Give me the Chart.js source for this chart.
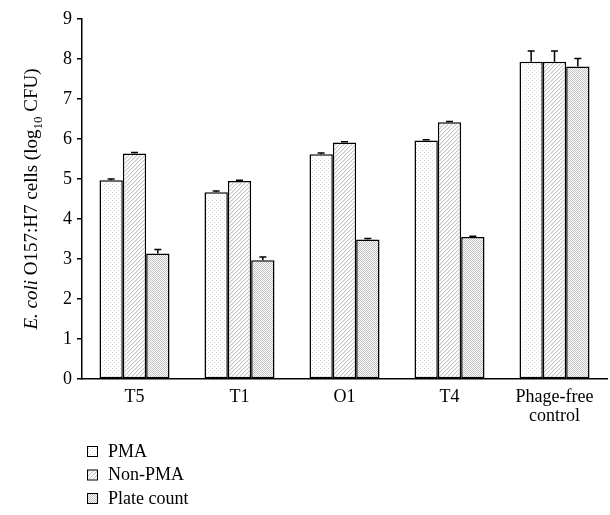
<!DOCTYPE html>
<html>
<head>
<meta charset="utf-8">
<script src="https://cdn.jsdelivr.net/npm/chart.js@4"></script>
<style>
  html, body { margin: 0; padding: 0; background: #fff; }
  #wrap { width: 610px; height: 515px; position: relative; }
</style>
</head>
<body>
<div id="wrap"><canvas id="chart"></canvas></div>
<script>
// data
const categories = ['T5', 'T1', 'O1', 'T4', ['Phage-free', 'control']];
const seriesNames = ['PMA', 'Non-PMA', 'Plate count'];
const pmaValues = [4.97, 4.67, 5.62, 5.96, 7.93];
const nonPmaValues = [5.64, 4.95, 5.91, 6.42, 7.93];
const plateValues = [3.14, 2.97, 3.49, 3.55, 7.81];
const pmaErrors = [0.03, 0.03, 0.03, 0.02, 0.27];
const nonPmaErrors = [0.02, 0.02, 0.02, 0.02, 0.27];
const plateErrors = [0.10, 0.08, 0.02, 0.02, 0.20];
const yTicks = [0, 1, 2, 3, 4, 5, 6, 7, 8, 9];

const FONT = "'Liberation Serif', 'DejaVu Serif', serif";

// small fill patterns that mimic the print hatching
function makePattern(kind) {
    const c = document.createElement('canvas');
    c.width = 4; c.height = 4;
    const g = c.getContext('2d');
    g.fillStyle = '#fff';
    g.fillRect(0, 0, 4, 4);
    if (kind === 'dots') {
        g.fillStyle = '#d8d8d8';
        g.fillRect(0, 0, 1, 1);
        g.fillRect(2, 2, 1, 1);
    } else if (kind === 'diag') {
        g.fillStyle = '#c8c8c8';
        for (let i = 0; i < 4; i++) g.fillRect(3 - i, i, 1, 1);
        g.fillStyle = '#e8e8e8';
        for (let i = 0; i < 4; i++) g.fillRect((4 - i) % 4, i, 1, 1);
    } else {
        g.fillStyle = '#c0c0c0';
        for (let y = 0; y < 4; y++)
            for (let x = 0; x < 4; x++)
                if ((x + y) % 2 === 0) g.fillRect(x, y, 1, 1);
    }
    return g.createPattern(c, 'repeat');
}

const fills = [makePattern('dots'), makePattern('diag'), makePattern('check')];
const errors = [pmaErrors, nonPmaErrors, plateErrors];

const errorBars = {
    id: 'errorBars',
    afterDatasetsDraw(chart) {
        const ctx = chart.ctx;
        const y = chart.scales.y;
        ctx.save();
        ctx.strokeStyle = '#000';
        ctx.lineWidth = 1.5;
        chart.data.datasets.forEach((ds, i) => {
            const meta = chart.getDatasetMeta(i);
            meta.data.forEach((bar, j) => {
                const top = y.getPixelForValue(ds.data[j] + errors[i][j]);
                ctx.beginPath();
                ctx.moveTo(bar.x, bar.y);
                ctx.lineTo(bar.x, top);
                ctx.moveTo(bar.x - 3.5, top);
                ctx.lineTo(bar.x + 3.5, top);
                ctx.stroke();
            });
        });
        ctx.restore();
    }
};

const yTitle = {
    id: 'yTitle',
    afterDraw(chart) {
        const ctx = chart.ctx;
        const area = chart.chartArea;
        const parts = [
            { t: 'E. coli', f: 'italic 19px ' + FONT, dy: 0 },
            { t: ' O157:H7 cells (log', f: '19px ' + FONT, dy: 0 },
            { t: '10', f: '13px ' + FONT, dy: 5 },
            { t: ' CFU)', f: '19px ' + FONT, dy: 0 }
        ];
        ctx.save();
        let total = 0;
        parts.forEach(p => { ctx.font = p.f; p.w = ctx.measureText(p.t).width; total += p.w; });
        ctx.translate(37, (area.top + area.bottom) / 2);
        ctx.rotate(-Math.PI / 2);
        ctx.fillStyle = '#000';
        ctx.textBaseline = 'alphabetic';
        let x = -total / 2;
        parts.forEach(p => {
            ctx.font = p.f;
            ctx.fillText(p.t, x, p.dy);
            x += p.w;
        });
        ctx.restore();
    }
};

const boxLegend = {
    id: 'boxLegend',
    afterDraw(chart) {
        const ctx = chart.ctx;
        ctx.save();
        ctx.font = '18px ' + FONT;
        ctx.textBaseline = 'middle';
        seriesNames.forEach((name, i) => {
            const cy = 451 + i * 23.5;
            ctx.fillStyle = fills[i];
            ctx.fillRect(87, cy - 5, 10, 10);
            ctx.strokeStyle = '#000';
            ctx.lineWidth = 1;
            ctx.strokeRect(87.5, cy - 4.5, 10, 10);
            ctx.fillStyle = '#000';
            ctx.fillText(name, 108, cy + 1);
        });
        ctx.restore();
    }
};

const values = [pmaValues, nonPmaValues, plateValues];

new Chart(document.getElementById('chart'), {
    type: 'bar',
    data: {
        labels: categories,
        datasets: seriesNames.map((name, i) => ({
            label: name,
            data: values[i],
            backgroundColor: fills[i],
            borderColor: '#000',
            borderWidth: 1.5,
            borderSkipped: false,
            categoryPercentage: 0.667,
            barPercentage: 1.0
        }))
    },
    options: {
        responsive: true,
        maintainAspectRatio: false,
        animation: false,
        layout: { padding: { left: 0, right: 3, top: 19, bottom: 76 } },
        plugins: {
            legend: { display: false },
            tooltip: { enabled: false }
        },
        scales: {
            x: {
                grid: { display: false },
                border: { color: '#000', width: 1.5 },
                ticks: {
                    color: '#000',
                    padding: 1,
                    maxRotation: 0,
                    font: { family: FONT, size: 18, lineHeight: 1.05 }
                },
                afterFit(scale) { scale.height = 60; }
            },
            y: {
                min: 0,
                max: 9,
                afterBuildTicks(scale) { scale.ticks = yTicks.map(v => ({ value: v })); },
                grid: { drawOnChartArea: false, drawTicks: true, tickLength: 5, color: '#000', lineWidth: 1.5 },
                border: { color: '#000', width: 1.5 },
                ticks: {
                    color: '#000',
                    padding: 5,
                    font: { family: FONT, size: 18 }
                },
                afterFit(scale) { scale.width = 82; }
            }
        }
    },
    plugins: [errorBars, yTitle, boxLegend]
});
</script>
</body>
</html>
